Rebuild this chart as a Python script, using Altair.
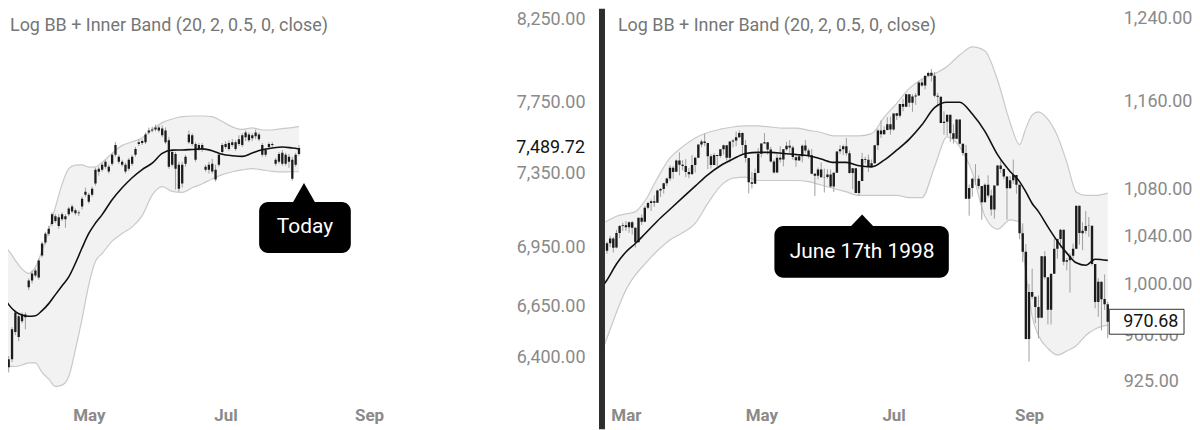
import altair as alt
import pandas as pd

# ---------------- LEFT PANEL (today) ----------------
l_open = [6597, 6456, 6393, 6393, 6524, 6602, 6577, 6597, 6747, 6781,
          6807, 6797, 6910, 6977, 7024, 7075, 7117, 7111, 7101, 7117,
          7127, 7142, 7148, 7132, 7168, 7232, 7232, 7232, 7293, 7358,
          7369, 7386, 7386, 7402, 7452, 7441, 7413, 7397, 7375, 7402,
          7452, 7512, 7518, 7523, 7578, 7589, 7595, 7606, 7600, 7589,
          7534, 7397, 7457, 7397, 7293, 7402, 7523, 7562, 7512, 7485,
          7507, 7386, 7369, 7402, 7369, 7397, 7468, 7496, 7518, 7507,
          7523, 7512, 7507, 7551, 7567, 7545, 7556, 7567, 7507, 7479,
          7496, 7507, 7424, 7413, 7463, 7402, 7441, 7424, 7397, 7457]
l_high = [6611, 6466, 6408, 6548, 6631, 6611, 6621, 6621, 6792, 6833,
          6843, 6895, 6982, 7034, 7065, 7137, 7127, 7127, 7137, 7127,
          7168, 7179, 7158, 7148, 7221, 7271, 7243, 7276, 7380, 7386,
          7408, 7424, 7397, 7463, 7523, 7452, 7424, 7408, 7435, 7452,
          7496, 7540, 7540, 7578, 7606, 7611, 7622, 7617, 7617, 7606,
          7551, 7479, 7468, 7413, 7413, 7452, 7589, 7573, 7523, 7518,
          7518, 7397, 7413, 7430, 7397, 7463, 7518, 7529, 7534, 7540,
          7534, 7562, 7573, 7589, 7578, 7573, 7595, 7578, 7518, 7490,
          7523, 7523, 7435, 7468, 7479, 7463, 7457, 7441, 7463, 7507]
l_low = [6461, 6369, 6330, 6378, 6509, 6480, 6568, 6538, 6733, 6766,
         6797, 6786, 6900, 6967, 7013, 7065, 7080, 7050, 7091, 7055,
         7117, 7132, 7122, 7117, 7153, 7221, 7184, 7221, 7282, 7337,
         7358, 7375, 7348, 7391, 7441, 7402, 7386, 7348, 7364, 7391,
         7441, 7501, 7507, 7512, 7567, 7578, 7584, 7578, 7551, 7512,
         7375, 7386, 7260, 7249, 7271, 7386, 7512, 7501, 7413, 7474,
         7468, 7358, 7348, 7348, 7304, 7386, 7457, 7485, 7474, 7496,
         7474, 7501, 7496, 7529, 7523, 7529, 7540, 7529, 7441, 7441,
         7485, 7496, 7391, 7402, 7391, 7391, 7380, 7309, 7386, 7446]
l_close = [6475, 6378, 6354, 6538, 6621, 6500, 6611, 6611, 6781, 6817,
           6833, 6884, 6972, 7024, 7050, 7127, 7091, 7065, 7127, 7101,
           7158, 7168, 7132, 7137, 7210, 7249, 7194, 7265, 7369, 7375,
           7397, 7413, 7359, 7452, 7507, 7413, 7397, 7359, 7424, 7441,
           7485, 7523, 7529, 7567, 7589, 7595, 7606, 7589, 7562, 7523,
           7386, 7468, 7375, 7265, 7397, 7441, 7567, 7512, 7424, 7507,
           7485, 7369, 7397, 7359, 7315, 7452, 7507, 7512, 7485, 7523,
           7485, 7540, 7562, 7578, 7534, 7562, 7578, 7540, 7452, 7452,
           7512, 7512, 7402, 7457, 7402, 7452, 7413, 7320, 7452, 7489.72]

l_band_idx = [0, 2, 4, 6, 8, 10, 12, 14, 16, 18, 20, 22, 24, 26, 28, 30,
              33, 36, 39, 42, 45, 48, 51, 54, 57, 60, 63, 66, 69, 72, 75,
              78, 81, 84, 87, 89]
l_upper = [6965, 6935, 6885, 6840, 6818, 6850, 6935, 7040, 7165, 7290, 7375,
           7395, 7396, 7384, 7385, 7410, 7460, 7505, 7525, 7548, 7594, 7634,
           7655, 7668, 7672, 7672, 7668, 7640, 7610, 7595, 7604, 7592, 7592,
           7600, 7606, 7611]
l_lower = [6380, 6360, 6358, 6365, 6375, 6375, 6330, 6298, 6264, 6270, 6310,
           6440, 6590, 6760, 6880, 6920, 6985, 7025, 7060, 7120, 7230, 7276,
           7250, 7245, 7270, 7292, 7318, 7342, 7358, 7368, 7375, 7368, 7360,
           7357, 7358, 7358]
l_mid = [6712, 6660, 6625, 6608, 6602, 6605, 6630, 6665, 6710, 6755, 6800,
         6870, 6950, 7025, 7080, 7125, 7205, 7270, 7325, 7370, 7405, 7460,
         7478, 7479, 7482, 7485, 7475, 7455, 7447, 7443, 7462, 7480, 7490,
         7496, 7490, 7485]

l_ticks = [6400, 6650, 6950, 7350, 7750, 8250]
l_month_idx = [26, 67, 110]
l_month_lbl = ["May", "Jul", "Sep"]
l_last = 7489.72

# ---------------- RIGHT PANEL (1998) ----------------
r_open = [1028.0, 1034.2, 1038.1, 1030.6, 1042.9, 1048.7,
          1049.3, 1047.7, 1052.0, 1047.3, 1035.1, 1055.7, 1052.3, 1064.3, 1068.5, 1069.9,
          1068.6, 1079.3, 1080.5, 1085.5, 1089.7, 1099.2, 1095.6, 1105.7, 1101.9, 1100.8,
          1095.4, 1093.6,
          1101.8, 1108.2, 1120.0, 1122.7, 1121.4, 1109.6, 1101.7, 1110.7, 1109.7, 1115.8,
          1119.3, 1108.2, 1122.7, 1123.7, 1126.7, 1130.5, 1119.6, 1107.9, 1086.5, 1085.1,
          1094.6,
          1111.8, 1121.0, 1122.1, 1115.5, 1104.9, 1095.1, 1108.1, 1106.6, 1115.8, 1118.9,
          1117.4, 1108.7, 1105.8, 1109.5, 1119.1, 1114.6, 1110.5, 1094.0, 1092.2, 1097.6,
          1090.8, 1091.0, 1093.2, 1082.7, 1094.8, 1113.9, 1115.7, 1118.4, 1112.3, 1094.6,
          1098.8, 1077.0, 1087.6, 1107.1, 1106.4, 1100.7, 1103.2, 1119.5, 1132.9, 1129.3,
          1133.2, 1138.5,
          1133.8, 1148.6, 1146.4, 1157.3, 1154.7, 1166.4, 1158.6, 1164.3, 1165.2, 1177.6,
          1174.8, 1184.0, 1186.8, 1184.1, 1165.1, 1164.1, 1139.8, 1140.8, 1147.3, 1130.2,
          1125.2, 1143.0,
          1120.7, 1112.4, 1072.1, 1081.4, 1089.6, 1089.5, 1083.1, 1069.0, 1084.2, 1074.9,
          1062.8, 1083.7, 1101.2, 1098.1, 1091.6, 1081.2, 1088.1, 1092.9, 1084.2, 1042.6,
          1027.1,
          957.3, 994.3, 990.5, 982.3, 973.9, 1023.5, 1006.2, 980.2, 1009.1, 1029.7,
          1037.7, 1045.5, 1018.9, 1020.1, 1023.9, 1029.6, 1066.1, 1042.7, 1044.8, 1048.7,
          1049.0,
          1017.0, 986.4, 1002.6, 988.6, 984.6]
r_high = [1035.5, 1040.5, 1039.5, 1045.5, 1049.5, 1051.5,
          1053.0, 1052.5, 1053.0, 1047.5, 1056.0, 1058.5, 1066.0, 1069.5, 1071.5, 1075.0,
          1080.0, 1081.5, 1086.0, 1090.5, 1101.5, 1101.0, 1106.5, 1113.0, 1106.0, 1107.0,
          1099.0, 1110.5,
          1109.0, 1120.0, 1124.5, 1130.0, 1121.5, 1111.5, 1112.5, 1110.8, 1115.8, 1119.9,
          1119.5, 1122.8, 1124.9, 1132.0, 1132.9, 1131.0, 1124.0, 1107.9, 1095.5, 1098.5,
          1116.9,
          1121.0, 1130.5, 1122.1, 1118.0, 1106.5, 1111.5, 1118.5, 1116.0, 1122.5, 1124.0,
          1119.0, 1112.0, 1111.0, 1120.0, 1124.0, 1116.5, 1116.0, 1094.5, 1099.5, 1104.0,
          1098.5, 1098.0, 1097.5, 1095.0, 1113.9, 1119.5, 1119.9, 1126.0, 1114.5, 1099.0,
          1098.8, 1088.0, 1112.5, 1109.0, 1111.0, 1106.5, 1119.5, 1134.5, 1142.0, 1136.5,
          1145.0, 1145.5,
          1148.6, 1149.0, 1157.5, 1162.0, 1167.0, 1166.5, 1166.5, 1167.5, 1179.0, 1181.0,
          1184.0, 1188.0, 1190.6, 1187.5, 1167.7, 1164.3, 1150.5, 1147.5, 1147.3, 1138.5,
          1143.0, 1143.0,
          1121.0, 1119.5, 1084.5, 1090.5, 1102.5, 1092.5, 1083.1, 1085.5, 1092.5, 1080.0,
          1083.7, 1101.7, 1106.5, 1098.5, 1091.6, 1092.0, 1106.5, 1092.9, 1084.2, 1051.0,
          1033.5,
          1000.7, 1013.2, 990.5, 991.5, 1023.5, 1027.7, 1006.2, 1009.1, 1038.4, 1037.9,
          1046.1, 1045.5, 1022.0, 1026.0, 1033.9, 1066.1, 1066.1, 1051.9, 1061.5, 1056.3,
          1049.0,
          1017.0, 1005.5, 1002.6, 1008.5, 986.5]
r_low = [1025.5, 1031.0, 1026.5, 1030.0, 1038.5, 1044.5,
         1044.5, 1043.0, 1041.5, 1030.5, 1035.0, 1049.5, 1052.0, 1063.0, 1061.5, 1065.0,
         1068.5, 1073.5, 1076.5, 1083.0, 1087.5, 1089.5, 1095.5, 1092.5, 1097.0, 1091.0,
         1090.0, 1093.5,
         1095.0, 1108.0, 1117.5, 1118.5, 1098.0, 1098.5, 1101.5, 1100.5, 1108.0, 1111.0,
         1105.5, 1104.0, 1117.5, 1118.5, 1126.0, 1112.0, 1104.0, 1076.7, 1081.0, 1085.0,
         1094.5,
         1108.5, 1121.0, 1111.0, 1104.0, 1094.0, 1094.5, 1104.0, 1100.5, 1114.5, 1112.5,
         1106.5, 1100.0, 1105.5, 1104.0, 1112.5, 1107.5, 1093.5, 1074.5, 1089.0, 1090.5,
         1077.5, 1089.5, 1081.5, 1078.0, 1094.5, 1111.5, 1110.5, 1110.0, 1094.0, 1080.5,
         1077.0, 1074.5, 1087.5, 1103.0, 1095.5, 1099.5, 1103.0, 1115.0, 1126.0, 1129.0,
         1133.0, 1129.0,
         1132.5, 1142.5, 1144.5, 1150.5, 1154.5, 1154.5, 1150.0, 1156.5, 1165.0, 1173.5,
         1171.0, 1182.5, 1178.5, 1163.5, 1155.0, 1139.5, 1129.0, 1128.0, 1122.5, 1121.0,
         1125.0, 1120.0,
         1110.0, 1071.8, 1057.5, 1074.0, 1084.0, 1080.5, 1054.0, 1069.0, 1073.0, 1057.5,
         1055.0, 1083.5, 1094.5, 1089.0, 1054.0, 1081.0, 1085.0, 1076.5, 1037.5, 1018.5,
         957.0,
         939.98, 988.5, 969.5, 957.7, 973.9, 1004.5, 968.6, 968.6, 1009.1, 1021.5,
         1030.5, 1016.0, 1011.8, 993.8, 1021.5, 1029.6, 1033.0, 1028.5, 1042.2, 1039.5,
         1015.7,
         981.3, 974.6, 964.0, 980.0, 958.0]
r_close = [1034.21, 1038.14, 1030.56, 1042.90, 1048.67, 1049.34,
           1047.70, 1052.02, 1047.33, 1035.05, 1055.69, 1052.31, 1064.25, 1068.47, 1069.92, 1068.61,
           1079.27, 1080.45, 1085.52, 1089.74, 1099.16, 1095.55, 1105.65, 1101.93, 1100.80, 1095.44,
           1093.60, 1101.75,
           1108.15, 1120.01, 1122.70, 1121.38, 1109.55, 1101.65, 1110.67, 1109.69, 1115.75, 1119.32,
           1108.17, 1122.72, 1123.65, 1126.67, 1130.54, 1119.58, 1107.90, 1086.54, 1085.11, 1094.63,
           1111.75,
           1121.00, 1122.07, 1115.50, 1104.92, 1095.14, 1108.14, 1106.64, 1115.79, 1118.86, 1117.37,
           1108.73, 1105.82, 1109.52, 1119.06, 1114.64, 1110.47, 1094.02, 1092.23, 1097.60, 1090.82,
           1090.98, 1093.22, 1082.73, 1094.83, 1113.86, 1115.72, 1118.41, 1112.28, 1094.58, 1098.84,
           1077.01, 1087.59, 1107.11, 1106.37, 1100.65, 1103.21, 1119.49, 1132.88, 1129.28, 1133.20,
           1138.49, 1133.84,
           1148.56, 1146.42, 1157.33, 1154.66, 1166.38, 1158.56, 1164.33, 1165.19, 1177.58, 1174.81,
           1183.99, 1186.75, 1184.10, 1165.07, 1164.08, 1139.75, 1140.80, 1147.27, 1130.24, 1125.21,
           1142.95, 1120.67,
           1112.44, 1072.12, 1081.43, 1089.63, 1089.45, 1083.14, 1068.98, 1084.22, 1074.91, 1062.75,
           1083.67, 1101.20, 1098.06, 1091.60, 1081.24, 1088.14, 1092.85, 1084.19, 1042.59, 1027.14,
           957.28,
           994.26, 990.47, 982.26, 973.89, 1023.46, 1006.20, 980.19, 1009.06, 1029.72, 1037.68,
           1045.48, 1018.87, 1020.09, 1023.89, 1029.63, 1066.09, 1042.72, 1044.75, 1048.69, 1049.02,
           1017.01,
           986.39, 1002.60, 988.56, 984.59, 970.68]

r_band_idx = [-8, -6, -3, 0, 3, 6, 10, 14, 18, 22, 26, 30, 34, 38, 42, 46,
              50, 54, 58, 62, 66, 70, 74, 78, 82, 86, 90, 94, 98, 102, 106,
              110, 114, 118, 122, 125, 127, 129, 131, 134, 137, 140, 143,
              146, 149, 153]
r_upper = [1051, 1053, 1057, 1059, 1061, 1070, 1090, 1108, 1118, 1126, 1131,
           1134, 1136, 1137, 1137, 1136, 1135, 1135, 1133, 1131, 1128, 1128,
           1128, 1130, 1145, 1158, 1172, 1181, 1186, 1193, 1204, 1212, 1208,
           1180, 1140, 1120, 1135, 1147, 1150, 1143, 1128, 1104, 1078, 1075,
           1075, 1077]
r_lower = [945, 958, 978, 996, 1008, 1017, 1028, 1037, 1043, 1051, 1068,
           1083, 1090, 1091, 1088, 1088, 1088, 1088, 1087, 1084, 1081, 1078,
           1075, 1075, 1075, 1075, 1073, 1073, 1100, 1127, 1118, 1095, 1057,
           1046, 1054, 1052, 1010, 975, 960, 950, 945, 948, 952, 960, 965, 968]
r_mid = [997, 1004, 1017, 1027, 1034, 1042, 1053, 1063, 1073, 1083, 1093,
         1101, 1107, 1112, 1113, 1113, 1112, 1111, 1110, 1107, 1104, 1104,
         1101, 1100, 1106, 1115, 1125, 1138, 1154, 1159, 1159, 1148, 1132,
         1111, 1096, 1087, 1078, 1068, 1061, 1048, 1036, 1026, 1018, 1016,
         1021, 1020]

r_ticks = [925, 960, 1000, 1040, 1080, 1160, 1240]
r_month_idx = [0, 43, 85, 128]
r_month_lbl = ["Mar", "May", "Jul", "Sep"]
r_last = 970.68
r_event_idx = 75  # June 17th 1998

TITLE = "Log BB + Inner Band (20, 2, 0.5, 0, close)"
FONT = "Roboto"
AXIS_GREY = "#8a8a8a"
H = 392
FS = 18


def label_expr(idx, lbl):
    expr = "''"
    for i, l in zip(reversed(idx), reversed(lbl)):
        expr = f"datum.value == {i} ? '{l}' : ({expr})"
    return expr


def build_panel(o, h, l, c, first_idx, bidx, up, lo, mid, xdom, ydom,
                yticks, midx, mlbl, width, label_pad, body_w):
    candles = pd.DataFrame({"i": list(range(first_idx, first_idx + len(c))),
                            "open": o, "high": h, "low": l, "close": c})
    band = pd.DataFrame({"i": bidx, "upper": up, "lower": lo, "mid": mid})

    xs = alt.Scale(domain=xdom, nice=False, zero=False)
    ys = alt.Scale(type="log", domain=ydom, nice=False, zero=False)
    xa = alt.Axis(values=midx, labelExpr=label_expr(midx, mlbl), title=None,
                  grid=False, domain=False, ticks=False, labelFont=FONT,
                  labelFontSize=17, labelFontWeight="bold", labelColor=AXIS_GREY,
                  labelPadding=8, labelFlush=False, labelOverlap=False,
                  labelBound=False)
    ya = alt.Axis(orient="right", values=yticks, format=",.2f", title=None,
                  grid=False, domain=False, ticks=False, labelFont=FONT,
                  labelFontSize=FS, labelColor=AXIS_GREY, labelPadding=label_pad,
                  labelAlign="left", labelBaseline="middle", labelOverlap=False,
                  labelBound=False, labelFlush=False)

    def X(f):
        return alt.X(f, type="quantitative", scale=xs, axis=xa)

    def Y(f):
        return alt.Y(f, type="quantitative", scale=ys, axis=ya)

    area = alt.Chart(band).mark_area(color="#f2f2f2", opacity=1,
                                     interpolate="monotone", clip=True).encode(
        x=X("i"), y=Y("upper"), y2="lower")
    up_line = alt.Chart(band).mark_line(color="#c9c9c9", strokeWidth=1.2,
                                        interpolate="monotone", clip=True).encode(
        x=X("i"), y=Y("upper"))
    lo_line = alt.Chart(band).mark_line(color="#c9c9c9", strokeWidth=1.2,
                                        interpolate="monotone", clip=True).encode(
        x=X("i"), y=Y("lower"))
    mid_line = alt.Chart(band).mark_line(color="#111111", strokeWidth=1.6,
                                         interpolate="monotone", clip=True).encode(
        x=X("i"), y=Y("mid"))
    wick = alt.Chart(candles).mark_rule(color="#a0a0a0", strokeWidth=1,
                                        clip=True).encode(
        x=X("i"), y=Y("low"), y2="high")
    body = alt.Chart(candles).mark_rule(color="#1c1c1c", strokeWidth=body_w,
                                        clip=True).encode(
        x=X("i"), y=Y("open"), y2="close")
    return [area, up_line, lo_line, wick, body, mid_line], xs, ys, xa, ya


# ---------- left ----------
L_W = 504
l_layers, lxs, lys, lxa, lya = build_panel(
    l_open, l_high, l_low, l_close, 0, l_band_idx, l_upper, l_lower, l_mid,
    [1.79, 152.33], [6203, 8315], l_ticks, l_month_idx, l_month_lbl,
    L_W, 6, 2.3)

last_i = len(l_close) - 1
l_title = alt.Chart().mark_text(text=TITLE, align="left", baseline="middle",
                                fontSize=FS, color="#767676", font=FONT).encode(
    x=alt.value(2), y=alt.value(17))
l_price = alt.Chart().mark_text(text=f"{l_last:,.2f}", align="left",
                                baseline="middle", fontSize=FS, color="#131313",
                                font=FONT).encode(
    x=alt.value(510),
    y=alt.YDatum(l_last, type="quantitative", scale=lys, axis=lya))
today_box = alt.Chart().mark_rect(color="black", cornerRadius=9,
                                  xOffset=-40, x2Offset=52).encode(
    x=alt.XDatum(last_i, type="quantitative", scale=lxs, axis=lxa),
    x2=alt.X2Datum(last_i),
    y=alt.value(194), y2=alt.value(245))
today_tri = alt.Chart().mark_point(shape="M0,-0.87L1,0.87L-1,0.87Z", size=529,
                                   filled=True, color="black", opacity=1,
                                   strokeWidth=0, xOffset=5).encode(
    x=alt.XDatum(last_i, type="quantitative", scale=lxs, axis=lxa),
    y=alt.value(185))
today_txt = alt.Chart().mark_text(text="Today", align="center", baseline="middle",
                                  fontSize=21, color="white", font=FONT,
                                  xOffset=6).encode(
    x=alt.XDatum(last_i, type="quantitative", scale=lxs, axis=lxa),
    y=alt.value(219))

left = alt.layer(*l_layers, l_title, l_price, today_box, today_tri,
                 today_txt).properties(width=L_W, height=H)

# ---------- right ----------
R_W = 520
r_layers, rxs, rys, rxa, rya = build_panel(
    r_open, r_high, r_low, r_close, -6, r_band_idx, r_upper, r_lower, r_mid,
    [-8.86, 155.7], [911.7, 1249.9], r_ticks, r_month_idx, r_month_lbl,
    R_W, 7, 2.4)

r_title = alt.Chart().mark_text(text=TITLE, align="left", baseline="middle",
                                fontSize=FS, color="#767676", font=FONT).encode(
    x=alt.value(20), y=alt.value(17))
price_box = alt.Chart().mark_rect(fill="white", stroke="#333333", strokeWidth=1,
                                  yOffset=-12.5, y2Offset=12.5).encode(
    x=alt.value(513), x2=alt.value(588),
    y=alt.YDatum(r_last, type="quantitative", scale=rys, axis=rya),
    y2=alt.Y2Datum(r_last))
price_txt = alt.Chart().mark_text(text=f"{r_last:,.2f}", align="left",
                                  baseline="middle", fontSize=FS,
                                  color="#131313", font=FONT).encode(
    x=alt.value(527),
    y=alt.YDatum(r_last, type="quantitative", scale=rys, axis=rya))
june_box = alt.Chart().mark_rect(color="black", cornerRadius=9,
                                 xOffset=-88, x2Offset=87).encode(
    x=alt.XDatum(r_event_idx, type="quantitative", scale=rxs, axis=rxa),
    x2=alt.X2Datum(r_event_idx),
    y=alt.value(218), y2=alt.value(270))
june_tri = alt.Chart().mark_point(shape="M0,-0.52L1,0.52L-1,0.52Z", size=529,
                                  filled=True, color="black", opacity=1,
                                  strokeWidth=0).encode(
    x=alt.XDatum(r_event_idx, type="quantitative", scale=rxs, axis=rxa),
    y=alt.value(212.5))
june_txt = alt.Chart().mark_text(text="June 17th 1998", align="center",
                                 baseline="middle", fontSize=21, color="white",
                                 font=FONT).encode(
    x=alt.XDatum(r_event_idx, type="quantitative", scale=rxs, axis=rxa),
    y=alt.value(244))
divider = alt.Chart().mark_rect(color="#2d2d2d").encode(
    x=alt.value(1), x2=alt.value(7), y=alt.value(0), y2=alt.value(422))

right = alt.layer(*r_layers, r_title, price_box, price_txt, june_box, june_tri,
                  june_txt, divider).properties(width=R_W, height=H)

chart = alt.hconcat(left, right, spacing=88, bounds="flush").properties(
    padding=0, background="white"
).configure(font=FONT).configure_view(stroke=None)

chart.save("out.html", embed_options={"renderer": "svg", "actions": False})
